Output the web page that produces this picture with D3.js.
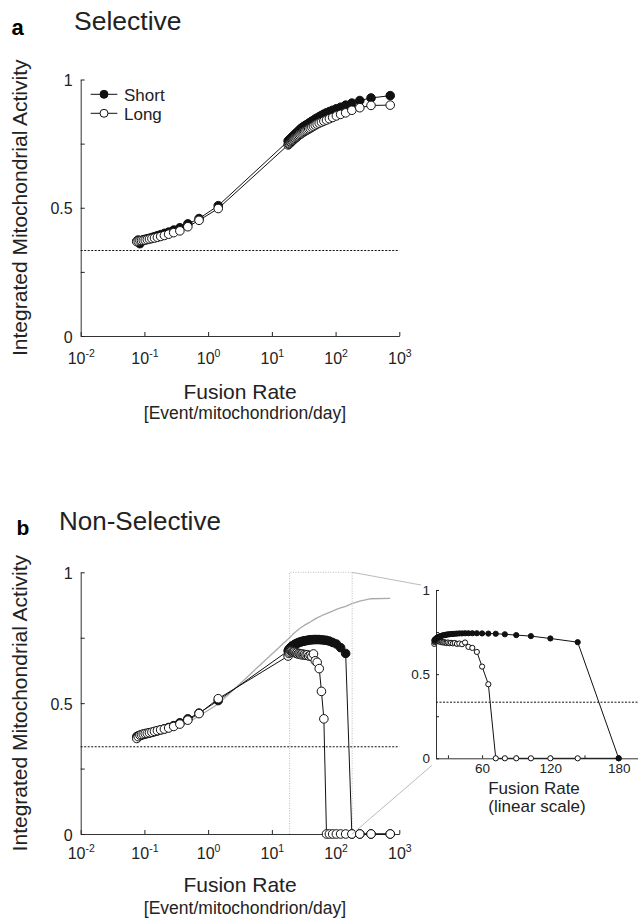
<!DOCTYPE html>
<html>
<head>
<meta charset="utf-8">
<script src="https://cdn.jsdelivr.net/npm/d3@7"></script>
<style>
body { margin: 0; background: #fff; }
svg { font-family: "Liberation Sans", Arial, sans-serif; }
</style>
</head>
<body>
<svg id="fig" width="638" height="919"></svg>
<script>
// fusion rates [event/mitochondrion/day]
var fusionRates = [0.076, 0.08, 0.085, 0.09, 0.096, 0.103, 0.111, 0.12, 0.131, 0.144, 0.16, 0.18, 0.206, 0.24, 0.288, 0.36, 0.48, 0.72, 1.44,
    18, 18.5, 18.9, 19.5, 20, 20.6, 21.2, 21.8, 22.5, 23.2, 24, 24.8, 25.7, 26.7, 27.7, 28.8, 30, 31.3, 32.7, 34.3,
    36, 37.9, 40, 42.4, 45, 48, 51.4, 55.4, 60, 65.5, 72, 80, 90, 102.9, 120, 144, 180, 240, 360, 720]

var selectiveShort = [0.370, 0.374, 0.360, 0.372, 0.375, 0.377, 0.379, 0.381, 0.384, 0.387, 0.391, 0.395, 0.400, 0.405, 0.413, 0.422, 0.437, 0.458, 0.508,
    0.760, 0.762, 0.765, 0.768, 0.771, 0.774, 0.777, 0.780, 0.783, 0.786, 0.790, 0.793, 0.797, 0.801, 0.805, 0.809, 0.813, 0.816, 0.819, 0.822,
    0.825, 0.829, 0.833, 0.837, 0.841, 0.846, 0.850, 0.855, 0.860, 0.865, 0.870, 0.875, 0.880, 0.886, 0.892, 0.900, 0.908, 0.918, 0.928, 0.937]

var selectiveLong = [0.368, 0.370, 0.372, 0.372, 0.373, 0.374, 0.376, 0.378, 0.380, 0.382, 0.385, 0.388, 0.392, 0.397, 0.403, 0.410, 0.426, 0.451, 0.497,
    0.745, 0.748, 0.750, 0.753, 0.756, 0.759, 0.762, 0.765, 0.768, 0.771, 0.774, 0.777, 0.780, 0.783, 0.786, 0.789, 0.792, 0.795, 0.798, 0.801,
    0.804, 0.807, 0.810, 0.814, 0.818, 0.822, 0.826, 0.830, 0.834, 0.838, 0.842, 0.847, 0.852, 0.858, 0.864, 0.870, 0.880, 0.890, 0.899, 0.900]

var nonSelShort = [0.372, 0.375, 0.376, 0.378, 0.380, 0.382, 0.384, 0.386, 0.388, 0.391, 0.394, 0.398, 0.402, 0.407, 0.414, 0.425, 0.440, 0.462, 0.510,
    0.700, 0.705, 0.708, 0.711, 0.714, 0.717, 0.719, 0.721, 0.723, 0.725, 0.727, 0.729, 0.730, 0.732, 0.733, 0.735, 0.736, 0.737, 0.738, 0.739,
    0.740, 0.741, 0.742, 0.742, 0.743, 0.743, 0.743, 0.743, 0.742, 0.741, 0.740, 0.737, 0.732, 0.726, 0.712, 0.690, 0, 0, 0, 0]

var nonSelLong = [0.365, 0.372, 0.378, 0.380, 0.382, 0.384, 0.385, 0.387, 0.389, 0.392, 0.395, 0.398, 0.401, 0.405, 0.411, 0.420, 0.435, 0.460, 0.517,
    0.680, 0.690, 0.695, 0.700, 0.700, 0.698, 0.696, 0.695, 0.697, 0.694, 0.690, 0.692, 0.688, 0.690, 0.687, 0.685, 0.688, 0.684, 0.686, 0.683,
    0.685, 0.680, 0.682, 0.678, 0.688, 0.662, 0.656, 0.632, 0.545, 0.440, 0, 0, 0, 0, 0, 0, 0, 0, 0, 0]

var logTicks = [0.01, 0.1, 1, 10, 100, 1000]
var activityTicks = [0, 0.25, 0.5, 0.75, 1]
var activityLabels = { "0": "0", "0.5": "0.5", "1": "1" }
var insetTicks = [30, 60, 90, 120, 150, 180]
var insetLabels = { "60": "60", "120": "120", "180": "180" }
var threshold = 1 / 3
var zoomBox = [19, 182]
var insetDomain = [19.5, 197]
var insetRange = [18, 180]

var svg = d3.select("#fig")

function rows(vals) {
    return fusionRates.map(function (r, i) { return { x: r, y: vals[i] } })
}

function series(g, x, y, data, filled, r, color) {
    var line = d3.line().x(function (d) { return x(d.x) }).y(function (d) { return y(d.y) })
    g.append("path").datum(data)
        .attr("d", line)
        .attr("fill", "none")
        .attr("stroke", color || "#111")
        .attr("stroke-width", 1)
    g.selectAll(null).data(data).enter().append("circle")
        .attr("cx", function (d) { return x(d.x) })
        .attr("cy", function (d) { return y(d.y) })
        .attr("r", r)
        .attr("fill", filled ? "#111" : "#fff")
        .attr("stroke", "#111")
        .attr("stroke-width", 1)
}

function styleAxis(a, size) {
    a.attr("font-family", null).attr("font-size", size).attr("color", "#222")
    a.select(".domain").attr("stroke", "#333")
}

// off = offsets below the x axis for tick labels, title, units
function logPanel(y0, y1, off) {
    var x = d3.scaleLog().domain([0.01, 1000]).range([80.7, 399.3])
    var y = d3.scaleLinear().domain([0, 1]).range([y0, y1])
    var g = svg.append("g")

    var xAxis = g.append("g")
        .attr("transform", "translate(0," + y0 + ")")
        .call(d3.axisBottom(x).tickValues(logTicks).tickSizeInner(-4).tickSizeOuter(0).tickFormat(""))
    styleAxis(xAxis, 16)
    xAxis.selectAll(".tick text").attr("y", off[0]).attr("dy", null)
        .each(function (d) {
            var t = d3.select(this)
            t.append("tspan").text("10")
            t.append("tspan").attr("dy", -7).attr("font-size", 10.5).text(Math.round(Math.log10(d)))
        })

    var yAxis = g.append("g")
        .attr("transform", "translate(80.7,0)")
        .call(d3.axisLeft(y).tickValues(activityTicks).tickSizeInner(-4).tickSizeOuter(0).tickPadding(8)
            .tickFormat(function (d) { return activityLabels[String(d)] || "" }))
    styleAxis(yAxis, 16)
    yAxis.selectAll(".tick text").attr("dy", "0.38em")

    // dotted threshold
    g.append("line")
        .attr("x1", x.range()[0]).attr("x2", x.range()[1])
        .attr("y1", y(threshold)).attr("y2", y(threshold))
        .attr("stroke", "#111").attr("stroke-width", 1).attr("stroke-dasharray", "2,1.5")

    g.append("text")
        .attr("x", 240).attr("y", y0 + off[1])
        .attr("text-anchor", "middle").attr("font-size", 21).attr("fill", "#222")
        .text("Fusion Rate")
    g.append("text")
        .attr("x", 245).attr("y", y0 + off[2])
        .attr("text-anchor", "middle").attr("font-size", 17.5).attr("fill", "#222")
        .text("[Event/mitochondrion/day]")
    g.append("text")
        .attr("transform", "translate(26.5," + ((y0 + y1) / 2) + ") rotate(-90)")
        .attr("text-anchor", "middle").attr("font-size", 21).attr("fill", "#222")
        .text("Integrated Mitochondrial Activity")
    return { g: g, x: x, y: y }
}

// ---- panel a
svg.append("text").attr("x", 11.5).attr("y", 35).attr("font-size", 22).attr("font-weight", "bold").text("a")
svg.append("text").attr("x", 74).attr("y", 29.5).attr("font-size", 26.5).attr("fill", "#222").text("Selective")

var pa = logPanel(336, 79.5, [28, 63, 83])
series(pa.g, pa.x, pa.y, rows(selectiveShort), true, 4.3)
series(pa.g, pa.x, pa.y, rows(selectiveLong), false, 4.3)

// legend
var legend = pa.g.append("g")
;[["Short", true, 94.3], ["Long", false, 113.3]].forEach(function (it) {
    legend.append("line").attr("x1", 90.7).attr("x2", 117.3).attr("y1", it[2]).attr("y2", it[2])
        .attr("stroke", "#111").attr("stroke-width", 1)
    legend.append("circle").attr("cx", 104).attr("cy", it[2]).attr("r", 4)
        .attr("fill", it[1] ? "#111" : "#fff").attr("stroke", "#111")
    legend.append("text").attr("x", 124).attr("y", it[2] + 6.2)
        .attr("font-size", 17).attr("fill", "#222").text(it[0])
})

// ---- panel b
svg.append("text").attr("x", 16.5).attr("y", 535).attr("font-size", 21).attr("font-weight", "bold").text("b")
svg.append("text").attr("x", 59).attr("y", 530).attr("font-size", 26).attr("fill", "#222").text("Non-Selective")

var pb = logPanel(834, 572.3, [24.5, 58, 80])

// selective curve for comparison, in grey
pb.g.insert("path", ":first-child").datum(rows(selectiveLong))
    .attr("d", d3.line().x(function (d) { return pb.x(d.x) }).y(function (d) { return pb.y(d.y) }))
    .attr("fill", "none").attr("stroke", "#aaa").attr("stroke-width", 1.3)

// zoom box
pb.g.append("path")
    .attr("d", "M" + pb.x(zoomBox[0]) + "," + pb.y(0) + "V" + pb.y(1) + "H" + pb.x(zoomBox[1]) + "V" + pb.y(0))
    .attr("fill", "none").attr("stroke", "#bbb").attr("stroke-width", 1).attr("stroke-dasharray", "1,1.5")

series(pb.g, pb.x, pb.y, rows(nonSelShort), true, 4.3)
series(pb.g, pb.x, pb.y, rows(nonSelLong), false, 4.3)

// ---- inset (linear scale)
var ix = d3.scaleLinear().domain(insetDomain).range([436, 638])
var iy = d3.scaleLinear().domain([0, 1]).range([758.3, 590])
var ig = svg.append("g")

ig.append("line")
    .attr("x1", pb.x(zoomBox[1])).attr("y1", pb.y(1)).attr("x2", ix.range()[0] - 15).attr("y2", iy(1) - 5)
    .attr("stroke", "#bbb").attr("stroke-width", 1)
ig.append("line")
    .attr("x1", pb.x(zoomBox[1])).attr("y1", pb.y(0)).attr("x2", ix.range()[0] - 4).attr("y2", iy(0) + 7)
    .attr("stroke", "#bbb").attr("stroke-width", 1)

var ixAxis = ig.append("g")
    .attr("transform", "translate(0," + iy(0) + ")")
    .call(d3.axisBottom(ix).tickValues(insetTicks).tickSizeInner(-3).tickSizeOuter(0).tickPadding(5)
        .tickFormat(function (d) { return insetLabels[String(d)] || "" }))
styleAxis(ixAxis, 13.5)
var iyAxis = ig.append("g")
    .attr("transform", "translate(" + ix.range()[0] + ",0)")
    .call(d3.axisLeft(iy).tickValues(activityTicks).tickSizeInner(-3).tickSizeOuter(0).tickPadding(6)
        .tickFormat(function (d) { return activityLabels[String(d)] || "" }))
styleAxis(iyAxis, 13.5)

ig.append("line")
    .attr("x1", ix.range()[0]).attr("x2", ix.range()[1])
    .attr("y1", iy(threshold)).attr("y2", iy(threshold))
    .attr("stroke", "#111").attr("stroke-width", 1).attr("stroke-dasharray", "2,1.5")

var inInset = function (d) { return d.x >= insetRange[0] && d.x <= insetRange[1] }
series(ig, ix, iy, rows(nonSelLong).filter(inInset), false, 2.6)
series(ig, ix, iy, rows(nonSelShort).filter(inInset), true, 2.6)

ig.append("text").attr("x", 534).attr("y", 793.5)
    .attr("text-anchor", "middle").attr("font-size", 17).attr("fill", "#222").text("Fusion Rate")
ig.append("text").attr("x", 537).attr("y", 812)
    .attr("text-anchor", "middle").attr("font-size", 17).attr("fill", "#222").text("(linear scale)")
</script>
</body>
</html>
